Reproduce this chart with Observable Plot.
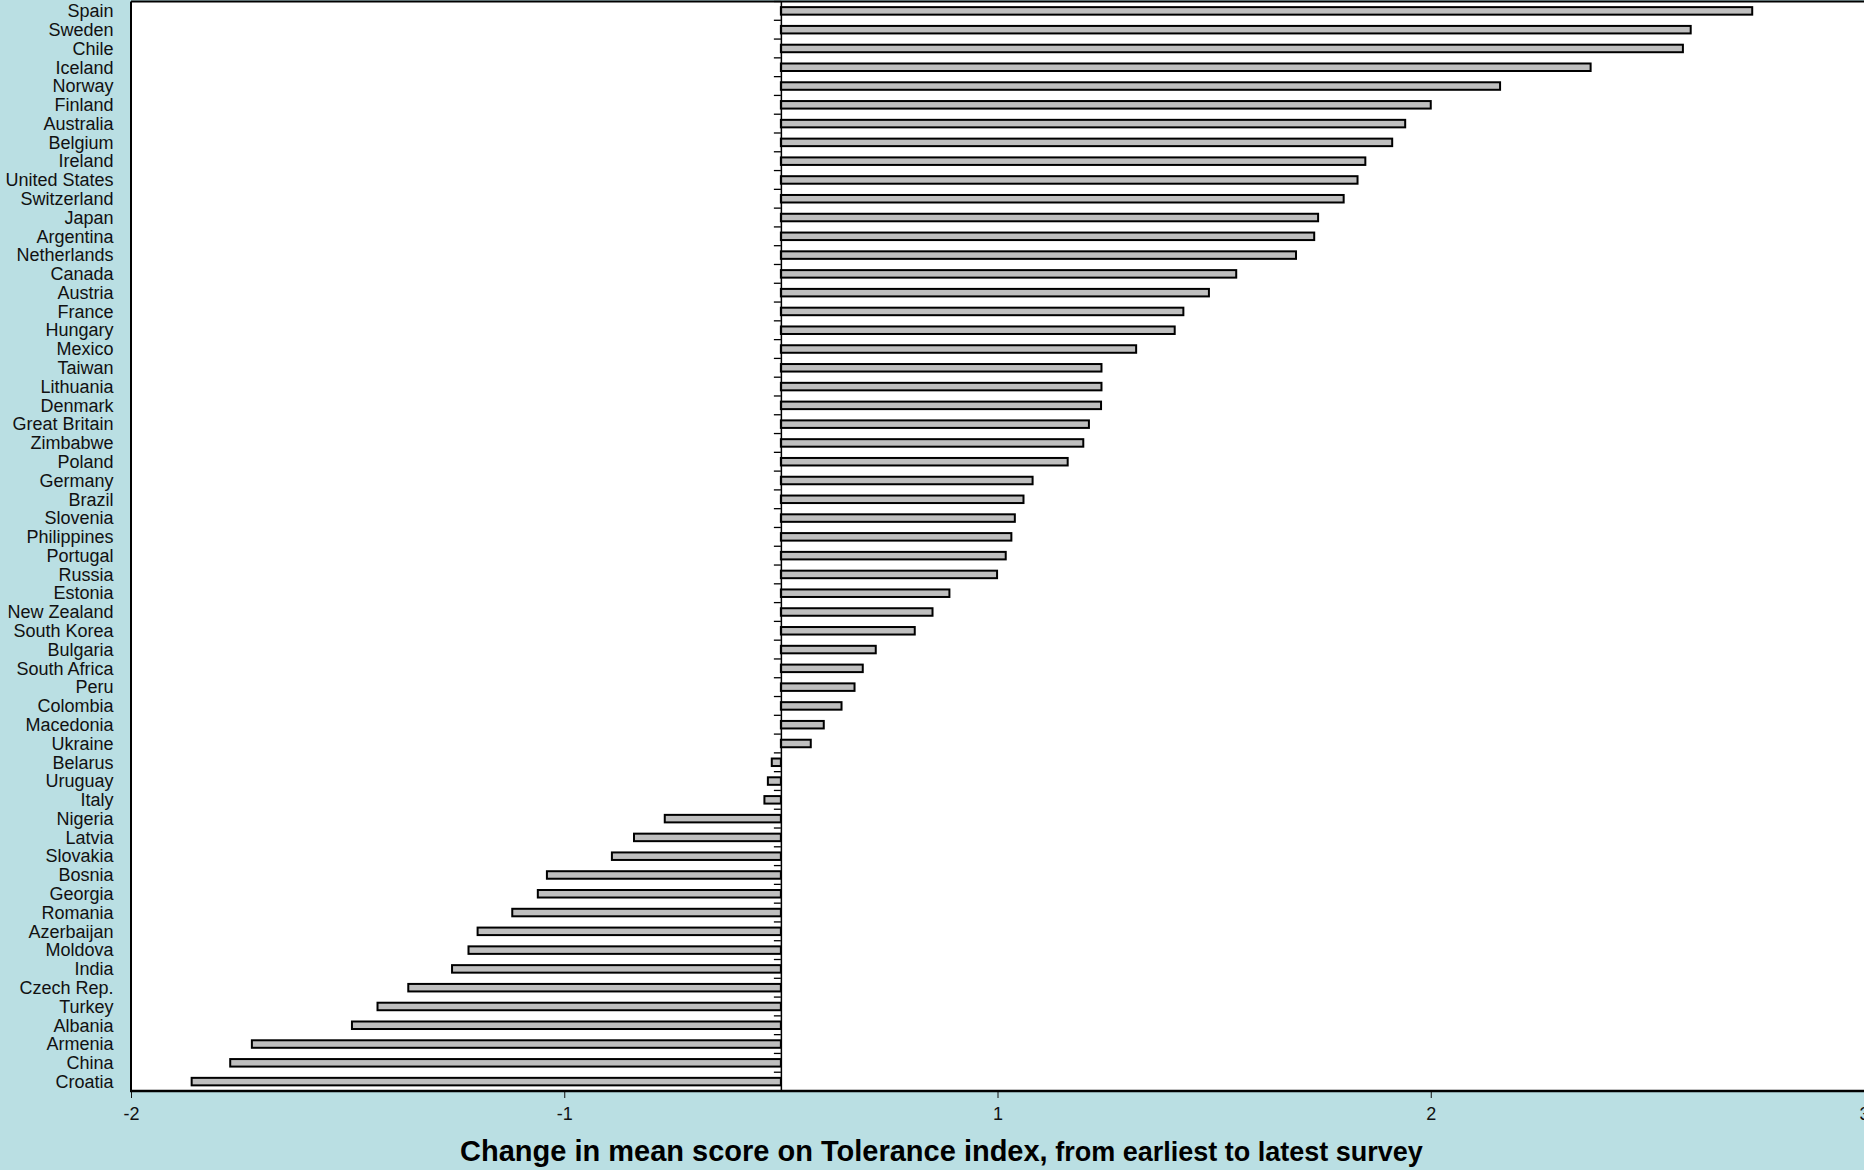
<!DOCTYPE html>
<html><head><meta charset="utf-8">
<script src="https://cdn.jsdelivr.net/npm/d3@7"></script>
<script src="https://cdn.jsdelivr.net/npm/@observablehq/plot@0.6"></script>
<style>
html,body{margin:0;padding:0;background:#badfe3;overflow:hidden;width:1864px;height:1170px;}
#chart{position:absolute;left:0;top:0;}
#title{position:absolute;left:460px;top:1135px;white-space:nowrap;font-family:"Liberation Sans",Arial,sans-serif;font-weight:bold;color:#000;}
</style></head><body>
<div id="chart"></div>
<div id="title"><span style="font-size:29px">Change in mean score on Tolerance index,</span><span style="font-size:27px"> from earliest to latest survey</span></div>
<script>
const countries = ["Spain","Sweden","Chile","Iceland","Norway","Finland","Australia","Belgium","Ireland","United States",
"Switzerland","Japan","Argentina","Netherlands","Canada","Austria","France","Hungary","Mexico","Taiwan",
"Lithuania","Denmark","Great Britain","Zimbabwe","Poland","Germany","Brazil","Slovenia","Philippines","Portugal",
"Russia","Estonia","New Zealand","South Korea","Bulgaria","South Africa","Peru","Colombia","Macedonia","Ukraine",
"Belarus","Uruguay","Italy","Nigeria","Latvia","Slovakia","Bosnia","Georgia","Romania","Azerbaijan",
"Moldova","India","Czech Rep.","Turkey","Albania","Armenia","China","Croatia"];
const changes = [2.242,2.100,2.082,1.869,1.660,1.500,1.441,1.411,1.349,1.331,
1.299,1.240,1.231,1.189,1.051,0.988,0.929,0.909,0.820,0.740,
0.740,0.739,0.711,0.698,0.662,0.581,0.560,0.540,0.532,0.519,
0.499,0.389,0.350,0.309,0.219,0.189,0.170,0.140,0.099,0.069,
-0.021,-0.030,-0.038,-0.268,-0.339,-0.390,-0.540,-0.561,-0.620,-0.700,
-0.721,-0.759,-0.860,-0.931,-0.990,-1.221,-1.271,-1.360];
const xDomain = [-1.5, 2.5];
const xTicks = [-1.5, -0.5, 0.5, 1.5, 2.5];
const xTickLabels = ["-2", "-1", "1", "2", "3"];

const data = countries.map((c, i) => ({country: c, change: changes[i]}));

const W = 1864, H = 1128, mL = 131, mR = 0, mT = 1.5, mB = 37;

// plot-area borders (top, left, bottom axis line) and category tick marks on the zero line
function decorations(index, scales, values, dimensions) {
  const {x, y} = scales;
  const {width, height, marginTop, marginLeft, marginRight, marginBottom} = dimensions;
  const g = d3.create("svg:g").attr("stroke", "#000").attr("fill", "none");
  const x0 = x(0);
  const bw = y.bandwidth();
  const st = y.step();
  for (const c of countries) {
    const yb = y(c) + bw / 2 - st / 2;
    g.append("line").attr("x1", x0 - 7).attr("x2", x0).attr("y1", yb).attr("y2", yb).attr("stroke-width", 1.3);
  }
  g.append("line").attr("x1", marginLeft).attr("x2", width - marginRight).attr("y1", marginTop).attr("y2", marginTop).attr("stroke-width", 2);
  g.append("line").attr("x1", marginLeft).attr("x2", marginLeft).attr("y1", marginTop).attr("y2", height - marginBottom).attr("stroke-width", 2);
  g.append("line").attr("x1", marginLeft - 1).attr("x2", width - marginRight).attr("y1", height - marginBottom).attr("y2", height - marginBottom).attr("stroke-width", 2.5);
  return g.node();
}

const chart = Plot.plot({
  width: W, height: H,
  marginLeft: mL, marginRight: mR, marginTop: mT, marginBottom: mB,
  style: {background: "transparent", fontFamily: "Liberation Sans, Arial, sans-serif", fontSize: "18px", color: "#111", overflow: "visible"},
  x: {domain: xDomain, label: null, ticks: xTicks, tickFormat: d => xTickLabels[xTicks.indexOf(d)], tickSize: 7, tickPadding: 9},
  y: {domain: countries, paddingInner: 0.6, paddingOuter: 0.3, label: null, tickSize: 0, tickPadding: 18},
  marks: [
    Plot.frame({fill: "white", stroke: "none"}),
    Plot.barX(data, {x: "change", y: "country", fill: "#bfbfbf", stroke: "#000", strokeWidth: 2}),
    Plot.ruleX([0], {stroke: "#000", strokeWidth: 1.5}),
    decorations
  ]
});
document.getElementById("chart").appendChild(chart);
</script>
</body></html>
